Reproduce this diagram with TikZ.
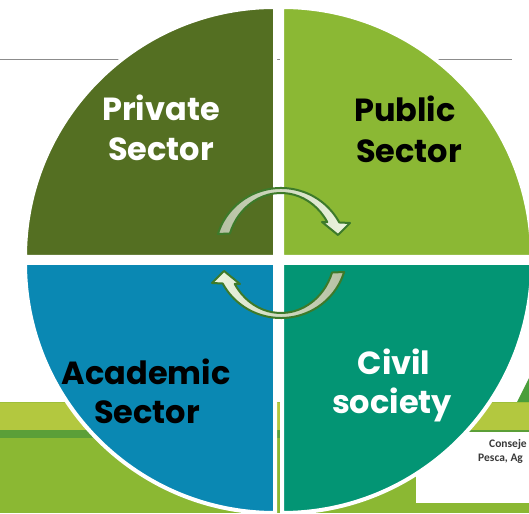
\documentclass[tikz,border=0pt]{standalone}
\usepackage{fontspec}
\newfontfamily\pop{Poppins}
\newfontfamily\carl{Carlito}
\usetikzlibrary{calc}
\definecolor{qpriv}{HTML}{546F22}
\definecolor{qpub}{HTML}{8BB834}
\definecolor{qacad}{HTML}{0A88B3}
\definecolor{qciv}{HTML}{039574}
\definecolor{lime}{HTML}{B3C83F}
\definecolor{limeedge}{HTML}{9EBF3A}
\definecolor{darkband}{HTML}{5B9F38}
\definecolor{midgreen}{HTML}{8BB833}
\definecolor{grayline}{HTML}{8C8C8C}
\definecolor{arline}{HTML}{3D7A2A}
\definecolor{argray}{HTML}{B5C0A3}
\definecolor{arlight}{HTML}{EEF6E1}
\definecolor{boxtext}{HTML}{3A3A3A}
\definecolor{tri}{HTML}{4A9E3B}
\tikzset{
  quad/.style={draw=white, line width=4pt},
  lbl/.style={font=\pop\bfseries\fontsize{32}{38}\selectfont, anchor=base, inner sep=0pt},
  arr/.style={draw=arline, line width=2pt, line join=round},
  boxlbl/.style={font=\carl\bfseries\fontsize{11.5}{13}\selectfont, text=boxtext, anchor=base west, inner sep=0pt}
}
\begin{document}
\begin{tikzpicture}[x=1pt,y=1pt]
\useasboundingbox (0,0) rectangle (529,513);
\clip (0,0) rectangle (529,513);
% background
\fill[white] (0,0) rectangle (529,513);
\draw[grayline, line width=1pt] (0,453) -- (512,453);
\fill[midgreen] (0,0) rectangle (529,75);
\fill[darkband] (0,75) rectangle (529,83);
\fill[lime] (0,83) rectangle (529,111);
\draw[limeedge, line width=1pt] (0,110.5) -- (529,110.5);
\fill[tri] (517,111) -- (529,135) -- (529,111) -- cycle;
\fill[white] (416,10) rectangle (529,81);
\node[boxlbl] (cons) at (489,65) {Conseje};
\node[boxlbl] (pesca) at (478,51) {Pesca, Ag};
% quadrants
\filldraw[quad, fill=qpriv] (275,256) -- ++(-250,0) arc[start angle=180, end angle=90, radius=250] -- cycle;
\filldraw[quad, fill=qpub] (282,256) -- ++(0,250) arc[start angle=90, end angle=0, radius=250] -- cycle;
\filldraw[quad, fill=qacad] (275,250) -- ++(0,-250) arc[start angle=270, end angle=180, radius=250] -- cycle;
\filldraw[quad, fill=qciv] (282,250) -- ++(250,0) arc[start angle=0, end angle=-90, radius=250] -- cycle;
% labels
\node[lbl, text=white] (priv1) at (161,392) {Private};
\node[lbl, text=white] (priv2) at (161,352) {Sector};
\node[lbl, text=black] (pub1) at (405,391) {Public};
\node[lbl, text=black] (pub2) at (409,350) {Sector};
\node[lbl, text=black] (acad1) at (146,128) {Academic};
\node[lbl, text=black] (acad2) at (147,89) {Sector};
\node[lbl, text=white] (civ1) at (394,138) {Civil};
\node[lbl, text=white] (civ2) at (392,99) {society};
% arrows
\coordinate (C) at (281,260);
\draw[arr, left color=argray, right color=arlight]
  ($(C)+(163:66 and 65)$) arc[start angle=163, end angle=28, x radius=66, y radius=65]
  -- ($(C)+(69,30)$) -- ($(C)+(57,18)$) -- ($(C)+(41,31)$)
  -- ($(C)+(31:54 and 60)$) arc[start angle=31, end angle=161, x radius=54, y radius=60] -- cycle;
\draw[arr, left color=arlight, right color=argray]
  ($(C)+(-17:66 and 65)$) arc[start angle=-17, end angle=-152, x radius=66, y radius=65]
  -- ($(C)+(-69,-30)$) -- ($(C)+(-57,-18)$) -- ($(C)+(-41,-31)$)
  -- ($(C)+(-149:54 and 60)$) arc[start angle=-149, end angle=-19, x radius=54, y radius=60] -- cycle;
\end{tikzpicture}
\end{document}
